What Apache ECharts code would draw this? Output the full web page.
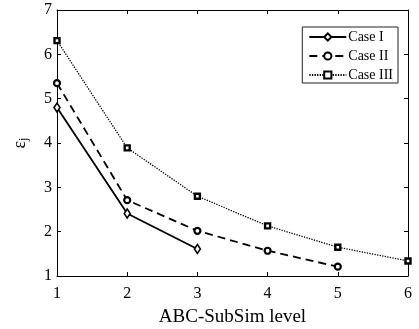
<!DOCTYPE html>
<html><head><meta charset="utf-8">
<script src="https://cdn.jsdelivr.net/npm/echarts@6/dist/echarts.min.js"></script>
<style>html,body{margin:0;padding:0;background:#fff}#c{width:419px;height:329px}</style>
</head><body><div id="c"></div>
<script>
const levels = [1, 2, 3, 4, 5, 6];
const caseI = [4.80, 2.41, 1.61];
const caseII = [5.35, 2.71, 2.02, 1.57, 1.21];
const caseIII = [6.31, 3.89, 2.80, 2.13, 1.65, 1.34];
const names = ['Case I', 'Case II', 'Case III'];

const F = 'Liberation Serif, Times New Roman, serif';
const chart = echarts.init(document.getElementById('c'));
const pair = arr => arr.map((v, i) => [levels[i], v]);
const tickStyle = {show: true, inside: true, length: 4, lineStyle: {color: '#000', width: 1}};
chart.setOption({
  animation: false,
  grid: {left: 57, right: 11, top: 10, bottom: 53, outerBoundsMode: 'none', containLabel: false},
  legend: {
    right: 21, top: 27, orient: 'vertical', itemGap: 5, itemWidth: 37, itemHeight: 9,
    padding: [3, 5, 1, 6], borderColor: '#222', borderWidth: 1, backgroundColor: '#fff',
    textStyle: {fontFamily: F, fontSize: 14, color: '#000', padding: [0,0,0,-3]},
    data: names
  },
  xAxis: [{
    type: 'value', min: 1, max: 6, interval: 1,
    name: 'ABC-SubSim level', nameLocation: 'middle', nameGap: 32,
    nameTextStyle: {fontFamily: F, fontSize: 19, color: '#000'},
    axisLine: {show: true, lineStyle: {color: '#000', width: 1}},
    axisTick: tickStyle, splitLine: {show: false},
    axisLabel: {fontFamily: F, fontSize: 16, color: '#000', margin: 10}
  }, {
    type: 'value', min: 1, max: 6, interval: 1, position: 'top',
    axisLine: {show: true, lineStyle: {color: '#000', width: 1}},
    axisTick: tickStyle, splitLine: {show: false}, axisLabel: {show: false}
  }],
  yAxis: [{
    type: 'value', min: 1, max: 7, interval: 1,
    name: '{a|ε}{b|j}', nameLocation: 'middle', nameGap: 27, nameRotate: 90,
    nameTextStyle: {fontFamily: F, color: '#000', rich: {
      a: {fontFamily: F, fontSize: 18, color: '#000'},
      b: {fontFamily: F, fontSize: 12, color: '#000', padding: [8, 0, 0, 0]}
    }},
    axisLine: {show: true, lineStyle: {color: '#000', width: 1}},
    axisTick: tickStyle, splitLine: {show: false},
    axisLabel: {fontFamily: F, fontSize: 16, color: '#000', margin: 5}
  }, {
    type: 'value', min: 1, max: 7, interval: 1, position: 'right',
    axisLine: {show: true, lineStyle: {color: '#000', width: 1}},
    axisTick: tickStyle, splitLine: {show: false}, axisLabel: {show: false}
  }],
  series: [{
    name: names[0], type: 'line', data: pair(caseI),
    symbol: 'diamond', symbolSize: [6, 9],
    lineStyle: {color: '#000', width: 1.8, type: 'solid'},
    itemStyle: {color: '#fff', borderColor: '#000', borderWidth: 1.6}
  }, {
    name: names[1], type: 'line', data: pair(caseII),
    symbol: 'circle', symbolSize: 6,
    lineStyle: {color: '#000', width: 1.8, type: [8, 5]},
    itemStyle: {color: '#fff', borderColor: '#000', borderWidth: 2.2}
  }, {
    name: names[2], type: 'line', data: pair(caseIII),
    symbol: 'rect', symbolSize: 5,
    lineStyle: {color: '#000', width: 1.3, type: [1.3, 1.3]},
    itemStyle: {color: '#fff', borderColor: '#000', borderWidth: 2.4}
  }]
});
</script></body></html>
